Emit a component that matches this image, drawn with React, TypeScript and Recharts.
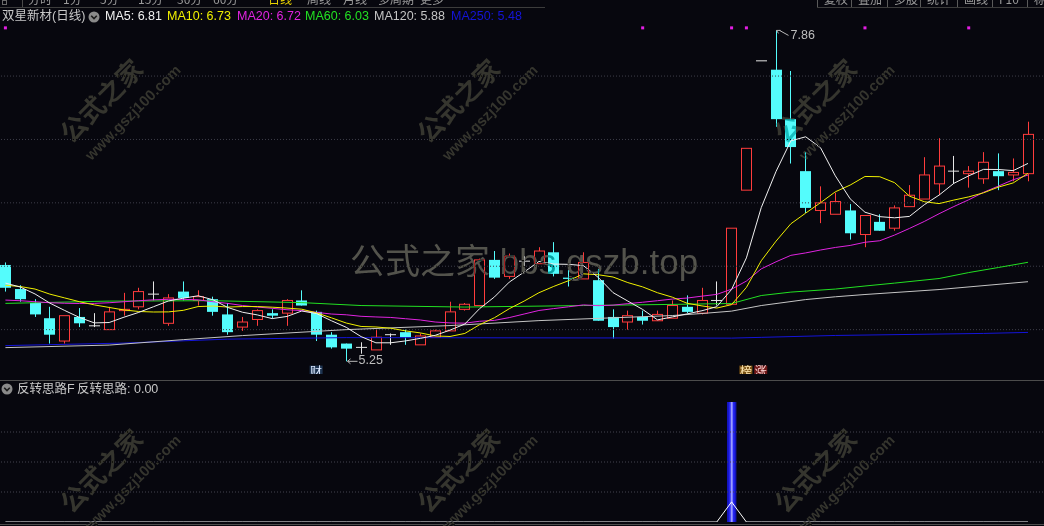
import React from 'react';
import { ComposedChart, Bar, Line, XAxis, YAxis, ReferenceLine } from 'recharts';

const BG = '#07070e';
const UP = '#ff3c3c';
const DOWN = '#54fcfc';
const FLAT = '#e6e6e6';
const LABEL = '#c8c8c8';
const UI_FONT = '"Liberation Sans", Arial, "Noto Sans CJK SC", sans-serif';
const CJK_FONT = '"Noto Sans CJK SC", "Liberation Sans", sans-serif';

const CHART_W = 1046; // plot starts 2px left of the page edge
const BAND_PAD = 8.6; // empty room right of the last candle

// daily candles, oldest first
const opens = [
  6.01, 5.82, 5.71, 5.59, 5.41, 5.60, 5.53, 5.50, 5.65, 5.68,
  5.78, 5.55, 5.80, 5.73, 5.74, 5.62, 5.52, 5.58, 5.63, 5.63,
  5.73, 5.64, 5.46, 5.39, 5.36, 5.34, 5.46, 5.48, 5.38, 5.44,
  5.49, 5.66, 5.69, 6.05, 5.92, 6.04, 6.02, 6.11, 5.91, 5.90,
  5.89, 5.60, 5.56, 5.60, 5.57, 5.59, 5.68, 5.63, 5.73, 5.70,
  6.60, 7.62, 7.55, 7.16, 6.75, 6.44, 6.41, 6.44, 6.25, 6.35,
  6.30, 6.47, 6.53, 6.65, 6.75, 6.73, 6.69, 6.75, 6.72, 6.73,
];
const highs = [
  6.03, 5.85, 5.74, 5.68, 5.61, 5.67, 5.63, 5.68, 5.79, 5.83,
  5.88, 5.78, 5.88, 5.81, 5.76, 5.71, 5.60, 5.66, 5.66, 5.74,
  5.81, 5.65, 5.48, 5.39, 5.40, 5.51, 5.47, 5.50, 5.47, 5.50,
  5.72, 5.71, 6.06, 6.12, 6.10, 6.08, 6.15, 6.19, 5.97, 6.11,
  5.98, 5.66, 5.65, 5.65, 5.65, 5.73, 5.77, 5.83, 5.88, 6.30,
  6.93, 7.62, 7.86, 7.54, 6.90, 6.63, 6.58, 6.49, 6.40, 6.41,
  6.48, 6.64, 6.86, 7.01, 6.87, 6.79, 6.90, 6.89, 6.85, 7.14,
];
const lows = [
  5.80, 5.72, 5.60, 5.39, 5.39, 5.52, 5.52, 5.50, 5.61, 5.66,
  5.73, 5.53, 5.73, 5.69, 5.61, 5.46, 5.49, 5.53, 5.59, 5.53,
  5.69, 5.41, 5.35, 5.25, 5.31, 5.34, 5.38, 5.38, 5.38, 5.44,
  5.49, 5.65, 5.69, 5.90, 5.90, 6.00, 6.02, 5.92, 5.84, 5.90,
  5.57, 5.43, 5.50, 5.54, 5.57, 5.59, 5.63, 5.62, 5.69, 5.70,
  6.60, 7.62, 7.10, 6.81, 6.42, 6.34, 6.41, 6.21, 6.15, 6.28,
  6.28, 6.47, 6.53, 6.56, 6.65, 6.62, 6.65, 6.60, 6.67, 6.67,
];
const closes = [
  5.83, 5.74, 5.62, 5.46, 5.61, 5.55, 5.53, 5.64, 5.66, 5.80,
  5.78, 5.75, 5.75, 5.76, 5.64, 5.48, 5.56, 5.65, 5.61, 5.73,
  5.69, 5.46, 5.36, 5.35, 5.36, 5.44, 5.46, 5.44, 5.45, 5.49,
  5.64, 5.70, 6.05, 5.91, 6.08, 6.04, 6.12, 5.94, 5.90, 6.03,
  5.57, 5.52, 5.61, 5.57, 5.62, 5.69, 5.64, 5.73, 5.73, 6.30,
  6.93, 7.62, 7.16, 6.94, 6.46, 6.50, 6.51, 6.26, 6.40, 6.28,
  6.46, 6.56, 6.72, 6.79, 6.75, 6.75, 6.82, 6.71, 6.74, 7.04,
];

// moving averages, one value per candle
const ma5 = [
  5.867, 5.836, 5.781, 5.709, 5.651, 5.596, 5.553, 5.556, 5.598, 5.636,
  5.681, 5.726, 5.748, 5.767, 5.736, 5.675, 5.637, 5.616, 5.587, 5.604,
  5.647, 5.626, 5.570, 5.518, 5.445, 5.396, 5.396, 5.411, 5.431, 5.455,
  5.496, 5.544, 5.666, 5.758, 5.875, 5.954, 6.038, 6.017, 6.015, 6.005,
  5.912, 5.792, 5.725, 5.659, 5.577, 5.600, 5.624, 5.649, 5.681, 5.817,
  6.066, 6.462, 6.748, 6.989, 7.021, 6.935, 6.713, 6.532, 6.426, 6.391,
  6.382, 6.393, 6.485, 6.561, 6.654, 6.713, 6.764, 6.763, 6.754, 6.811,
];
const ma10 = [
  5.850, 5.840, 5.820, 5.780, 5.750, 5.720, 5.695, 5.675, 5.655, 5.643,
  5.639, 5.640, 5.652, 5.682, 5.686, 5.678, 5.682, 5.682, 5.677, 5.670,
  5.661, 5.632, 5.593, 5.552, 5.525, 5.521, 5.511, 5.490, 5.474, 5.450,
  5.446, 5.470, 5.539, 5.594, 5.665, 5.725, 5.791, 5.841, 5.886, 5.940,
  5.933, 5.915, 5.871, 5.837, 5.791, 5.756, 5.708, 5.687, 5.670, 5.697,
  5.833, 6.043, 6.198, 6.335, 6.419, 6.501, 6.587, 6.640, 6.708, 6.706,
  6.659, 6.553, 6.509, 6.494, 6.522, 6.547, 6.579, 6.624, 6.657, 6.733,
];
const ma20 = [
  5.733, 5.728, 5.720, 5.712, 5.708, 5.706, 5.707, 5.712, 5.720, 5.728,
  5.735, 5.739, 5.739, 5.735, 5.720, 5.707, 5.690, 5.678, 5.668, 5.657,
  5.650, 5.636, 5.623, 5.617, 5.605, 5.600, 5.596, 5.586, 5.576, 5.560,
  5.553, 5.551, 5.566, 5.573, 5.595, 5.623, 5.651, 5.666, 5.680, 5.695,
  5.689, 5.693, 5.705, 5.716, 5.728, 5.741, 5.749, 5.764, 5.778, 5.819,
  5.883, 5.979, 6.035, 6.086, 6.105, 6.128, 6.148, 6.164, 6.189, 6.201,
  6.246, 6.298, 6.353, 6.414, 6.471, 6.524, 6.583, 6.632, 6.682, 6.719,
];

// long averages are nearly straight: read at a few days, joined by the line
const ma60Days = [0, 7, 14, 20, 24, 31, 39, 45, 49, 51, 53, 56, 58, 60, 63, 65, 67, 69];
const ma60Vals = [5.707, 5.725, 5.728, 5.713, 5.690, 5.678, 5.690, 5.699, 5.706, 5.769, 5.796, 5.820, 5.844, 5.867, 5.903, 5.950, 5.990, 6.031];
const ma120Days = [0, 7, 12, 16, 23, 30, 36, 45, 47, 49, 51, 54, 56, 58, 63, 69];
const ma120Vals = [5.358, 5.378, 5.421, 5.453, 5.500, 5.532, 5.571, 5.611, 5.627, 5.646, 5.690, 5.737, 5.759, 5.777, 5.816, 5.878];
const ma250Days = [0, 8, 15, 23, 49, 51, 56, 66, 69];
const ma250Vals = [5.374, 5.394, 5.425, 5.437, 5.433, 5.439, 5.454, 5.470, 5.478];

// marker rows: purple signal squares on top, event tags at the bottom
const signalDays = [0, 43, 49, 50, 58, 65];
const tagDays = [21, 50, 51];
const tagLabels = ['财', '榜', '涨'];
const tagColors: Record<string, [string, string]> = {
  财: ['#1d3350', '#dce9ff'],
  榜: ['#7a5214', '#ffe6b0'],
  涨: ['#701818', '#ffd8d8'],
};
const SIGNAL_LEVEL = 7.88;
const TAG_LEVEL = 5.165;

const priceGrid = [7.5, 7.0, 6.5, 6.0, 5.5];

// lower panel: 反转思路 indicator
const reversalBars = [
  0, 0, 0, 0, 0, 0, 0, 0, 0, 0,
  0, 0, 0, 0, 0, 0, 0, 0, 0, 0,
  0, 0, 0, 0, 0, 0, 0, 0, 0, 0,
  0, 0, 0, 0, 0, 0, 0, 0, 0, 0,
  0, 0, 0, 0, 0, 0, 0, 0, 0, 4,
  0, 0, 0, 0, 0, 0, 0, 0, 0, 0,
  0, 0, 0, 0, 0, 0, 0, 0, 0, 0,
];
const reversalTrace = [
  0, 0, 0, 0, 0, 0, 0, 0, 0, 0,
  0, 0, 0, 0, 0, 0, 0, 0, 0, 0,
  0, 0, 0, 0, 0, 0, 0, 0, 0, 0,
  0, 0, 0, 0, 0, 0, 0, 0, 0, 0,
  0, 0, 0, 0, 0, 0, 0, 0, 0, 0.67,
  0, 0, 0, 0, 0, 0, 0, 0, 0, 0,
  0, 0, 0, 0, 0, 0, 0, 0, 0, 0,
];
const subGrid = [1, 2, 3];

const pick = (days: number[], vals: number[], i: number) => {
  const k = days.indexOf(i);
  return k >= 0 ? vals[k] : null;
};

const rows = opens.map((open, i) => {
  const t = tagDays.indexOf(i);
  return {
    i,
    open,
    high: highs[i],
    low: lows[i],
    close: closes[i],
    ma5: ma5[i],
    ma10: ma10[i],
    ma20: ma20[i],
    ma60: pick(ma60Days, ma60Vals, i),
    ma120: pick(ma120Days, ma120Vals, i),
    ma250: pick(ma250Days, ma250Vals, i),
    signal: signalDays.includes(i) ? SIGNAL_LEVEL : null,
    tag: t >= 0 ? TAG_LEVEL : null,
    tagLabel: t >= 0 ? tagLabels[t] : '',
  };
});

const subRows = opens.map((_, i) => ({ i, bar: reversalBars[i], trace: reversalTrace[i] }));

const hiIdx = highs.indexOf(Math.max(...highs));
const loIdx = lows.indexOf(Math.min(...lows));

const averages = [
  { key: 'ma250', name: 'MA250', color: '#1414d8', vals: ma250Vals, left: 451 },
  { key: 'ma120', name: 'MA120', color: '#c4c4c4', vals: ma120Vals, left: 374 },
  { key: 'ma60', name: 'MA60', color: '#22e022', vals: ma60Vals, left: 305 },
  { key: 'ma20', name: 'MA20', color: '#e024e0', vals: ma20, left: 237 },
  { key: 'ma10', name: 'MA10', color: '#f0f000', vals: ma10, left: 167 },
  { key: 'ma5', name: 'MA5', color: '#f0f0f0', vals: ma5, left: 105 },
];

function Candle(props: any) {
  const { x, y, width, height, payload } = props;
  if (!payload) return null;
  const { open, high, low, close, i } = payload;
  const k = high > low ? height / (high - low) : 0;
  const py = (v: number) => y + (high - v) * k;
  const left = Math.round(x);
  const w = Math.round(width);
  const mid = left + Math.floor(w / 2) + 0.5;
  const yH = py(high);
  const yL = py(low);
  const yO = py(open);
  const yC = py(close);
  let body: React.ReactNode;
  if (close > open) {
    body = (
      <>
        <line x1={mid} x2={mid} y1={yH} y2={yC} stroke={UP} />
        <line x1={mid} x2={mid} y1={yO} y2={yL} stroke={UP} />
        <rect x={left + 0.5} y={yC} width={w - 1} height={Math.max(yO - yC, 1)} fill={BG} stroke={UP} />
      </>
    );
  } else if (close < open) {
    body = (
      <>
        <line x1={mid} x2={mid} y1={yH} y2={yL} stroke={DOWN} />
        <rect x={left} y={yO} width={w} height={Math.max(yC - yO, 1)} fill={DOWN} />
      </>
    );
  } else {
    body = (
      <>
        <line x1={mid} x2={mid} y1={yH} y2={yL} stroke={FLAT} />
        <line x1={left} x2={left + w} y1={yC} y2={yC} stroke={FLAT} />
      </>
    );
  }
  return (
    <g>
      {body}
      {i === hiIdx && (
        <>
          <path
            d={`M${mid},${yH} l4,0 M${mid},${yH} l2,3 M${mid + 3},${yH} L${mid + 12},${yH + 5}`}
            stroke="#b8b8b8"
            fill="none"
          />
          <text x={mid + 14} y={yH + 5} dominantBaseline="middle" fill="#bdbdbd" fontSize={12.5} fontFamily={UI_FONT}>
            {high.toFixed(2)}
          </text>
        </>
      )}
      {i === loIdx && (
        <>
          <path
            d={`M${mid + 1},${yL} L${mid + 11},${yL} M${mid + 1},${yL} l3,-2.5 M${mid + 1},${yL} l3,2.5`}
            stroke="#b8b8b8"
            fill="none"
          />
          <text x={mid + 12} y={yL - 1} dominantBaseline="middle" fill="#bdbdbd" fontSize={12.5} fontFamily={UI_FONT}>
            {low.toFixed(2)}
          </text>
        </>
      )}
    </g>
  );
}

function SignalDot(p: any) {
  if (p.value == null || p.cy == null) return <g key={p.index} />;
  return <rect key={p.index} x={p.cx - 1.5} y={p.cy - 1.5} width={3} height={3} fill="#e41ee4" />;
}

function TagDot(p: any) {
  if (p.value == null || p.cy == null) return <g key={p.index} />;
  const label = p.payload.tagLabel;
  const [bg, fg] = tagColors[label];
  return (
    <g key={p.index}>
      <rect x={p.cx - 7} y={p.cy - 6.5} width={13} height={13} fill={bg} />
      <text x={p.cx - 0.5} y={p.cy + 0.5} textAnchor="middle" dominantBaseline="middle" fill={fg} fontSize={12} fontFamily={CJK_FONT}>
        {label}
      </text>
    </g>
  );
}

function ReversalBar(p: any) {
  if (!p.height || p.height <= 0) return null;
  const mid = p.x + p.width / 2;
  return (
    <g>
      <rect x={mid - 4.5} y={p.y} width={9} height={p.height} fill="#2626f4" />
      <rect x={mid - 4.5} y={p.y} width={1.5} height={p.height} fill="#1212b8" />
      <rect x={mid + 3} y={p.y} width={1.5} height={p.height} fill="#1212b8" />
      <rect x={mid - 1} y={p.y} width={2} height={p.height} fill="#9c9cff" />
    </g>
  );
}

function Chevron({ left, top }: { left: number; top: number }) {
  return (
    <svg width={12} height={12} style={{ position: 'absolute', left, top }}>
      <circle cx={6} cy={6} r={5.5} fill="#8a8a8a" />
      <path d="M3.2,4.8 L6,7.6 L8.8,4.8" stroke="#1a1a1a" strokeWidth={1.6} fill="none" />
    </svg>
  );
}

function Stamp({ ax, ay }: { ax: number; ay: number }) {
  // ax, ay: lower-left corner of the first glyph
  return (
    <div
      style={{
        position: 'absolute',
        left: ax - 19,
        top: ay - 19,
        transform: 'rotate(-45deg)',
        transformOrigin: '0 0',
        color: '#3c3c3c',
        mixBlendMode: 'difference',
        whiteSpace: 'nowrap',
        pointerEvents: 'none',
      }}
    >
      <div style={{ fontFamily: CJK_FONT, fontSize: 26, fontWeight: 700, lineHeight: '30px' }}>公式之家</div>
      <div style={{ fontFamily: UI_FONT, fontSize: 15, fontWeight: 700, lineHeight: '18px', marginTop: 8, marginLeft: 2 }}>
        www.gszj100.com
      </div>
    </div>
  );
}

const topTabs = [
  { t: '分时', x: 28 },
  { t: '1分', x: 63 },
  { t: '5分', x: 100 },
  { t: '15分', x: 138 },
  { t: '30分', x: 177 },
  { t: '60分', x: 213 },
  { t: '日线', x: 268, on: true },
  { t: '周线', x: 307 },
  { t: '月线', x: 343 },
  { t: '多周期', x: 378 },
  { t: '更多', x: 420 },
];
const topButtons = [
  { t: '复权', x: 817 },
  { t: '叠加', x: 851 },
  { t: '多股', x: 887 },
  { t: '统计', x: 920 },
  { t: '画线', x: 957 },
  { t: 'F10', x: 992 },
  { t: '标记', x: 1027 },
];
const stamps = [
  { ax: 72, ay: 145 },
  { ax: 429, ay: 145 },
  { ax: 786, ay: 145 },
  { ax: 72, ay: 515 },
  { ax: 429, ay: 515 },
  { ax: 786, ay: 515 },
];

export default function App() {
  const abs = (left: number, top: number, extra: React.CSSProperties = {}): React.CSSProperties => ({
    position: 'absolute',
    left,
    top,
    whiteSpace: 'nowrap',
    ...extra,
  });
  return (
    <div
      style={{
        position: 'fixed',
        left: 0,
        top: 0,
        width: 1044,
        height: 526,
        overflow: 'hidden',
        background: BG,
        isolation: 'isolate',
        fontFamily: UI_FONT,
      }}
    >
      {/* main price panel */}
      <div style={{ position: 'absolute', left: -2, top: 0 }}>
        <ComposedChart width={CHART_W} height={380} data={rows} margin={{ top: 19, right: 0, bottom: 6, left: 0 }}>
          <XAxis dataKey="i" hide padding={{ left: 0, right: BAND_PAD }} />
          <YAxis hide domain={[5.15, 7.95]} allowDataOverflow />
          {priceGrid.map((p) => (
            <ReferenceLine key={p} y={p} stroke="#3e3e4a" strokeDasharray="1 2" />
          ))}
          <Bar dataKey={(d: any) => [d.low, d.high]} barSize={11} shape={Candle} isAnimationActive={false} />
          {averages.map((a) => (
            <Line
              key={a.key}
              type="linear"
              dataKey={a.key}
              stroke={a.color}
              strokeWidth={1}
              dot={false}
              activeDot={false}
              connectNulls
              isAnimationActive={false}
            />
          ))}
          <Line dataKey="signal" stroke="none" dot={SignalDot} activeDot={false} isAnimationActive={false} />
          <Line dataKey="tag" stroke="none" dot={TagDot} activeDot={false} isAnimationActive={false} />
        </ComposedChart>
      </div>

      {/* indicator panel */}
      <div style={{ position: 'absolute', left: -2, top: 380 }}>
        <ComposedChart width={CHART_W} height={146} data={subRows} margin={{ top: 22, right: 0, bottom: 4, left: 0 }}>
          <XAxis dataKey="i" hide padding={{ left: 0, right: BAND_PAD }} />
          <YAxis hide domain={[0, 4]} allowDataOverflow />
          {subGrid.map((v) => (
            <ReferenceLine key={v} y={v} stroke="#44444f" strokeDasharray="1 2" />
          ))}
          <Line type="linear" dataKey="trace" stroke="#ffffff" strokeWidth={1} dot={false} activeDot={false} isAnimationActive={false} />
          <Bar dataKey="bar" barSize={9} shape={ReversalBar} isAnimationActive={false} />
        </ComposedChart>
      </div>

      {/* toolbar strip, mostly scrolled out of view */}
      <div style={abs(0, 0, { width: 1044, height: 7, overflow: 'hidden' })}>
        <div style={abs(2, 0, { width: 5, height: 5, border: '1px solid #6a6a6a', boxSizing: 'border-box' })} />
        <div style={abs(22, 0, { width: 1, height: 7, background: '#4a4a4a' })} />
        {topTabs.map((t) => (
          <span key={t.t} style={abs(t.x, -7, { fontSize: 12, lineHeight: '12px', color: t.on ? '#e8d200' : '#9a9a9a', fontFamily: CJK_FONT })}>
            {t.t}
          </span>
        ))}
        {topButtons.map((b) => (
          <div key={b.t} style={abs(b.x, 0, { width: 35, height: 7, borderLeft: '1px solid #5a5a5a', overflow: 'hidden' })}>
            <span style={abs(6, -7, { fontSize: 12, lineHeight: '12px', color: '#9a9a9a', fontFamily: CJK_FONT })}>{b.t}</span>
          </div>
        ))}
      </div>
      <div style={abs(0, 7, { width: 545, height: 1, background: '#3c3c3c' })} />
      <div style={abs(817, 7, { width: 227, height: 1, background: '#3c3c3c' })} />

      {/* price panel header */}
      <span style={abs(2, 9, { fontSize: 12.5, lineHeight: '15px', color: LABEL })}>双星新材(日线)</span>
      <Chevron left={88} top={10.5} />
      {averages.map((a) => (
        <span key={a.key} style={abs(a.left, 9, { fontSize: 12.5, lineHeight: '15px', color: a.color })}>
          {a.name}: {a.vals[a.vals.length - 1].toFixed(2)}
        </span>
      ))}

      {/* panel divider and indicator header */}
      <div style={abs(0, 380, { width: 1044, height: 1, background: '#4c4c4c' })} />
      <Chevron left={1} top={383} />
      <span style={abs(17, 382, { fontSize: 12.5, lineHeight: '15px', color: LABEL })}>反转思路F</span>
      <span style={abs(77, 382, { fontSize: 12.5, lineHeight: '15px', color: LABEL })}>
        反转思路: {reversalTrace[reversalTrace.length - 1].toFixed(2)}
      </span>
      <div style={abs(0, 524, { width: 1044, height: 1, background: '#4c4c4c' })} />

      {/* site watermarks */}
      {stamps.map((s, k) => (
        <Stamp key={k} ax={s.ax} ay={s.ay} />
      ))}
      <div
        style={abs(350, 241, {
          fontSize: 35,
          lineHeight: '42px',
          color: '#5a5a5a',
          mixBlendMode: 'difference',
          fontFamily: UI_FONT,
        })}
      >
        公式之家 bbs.gszb.top
      </div>
    </div>
  );
}
